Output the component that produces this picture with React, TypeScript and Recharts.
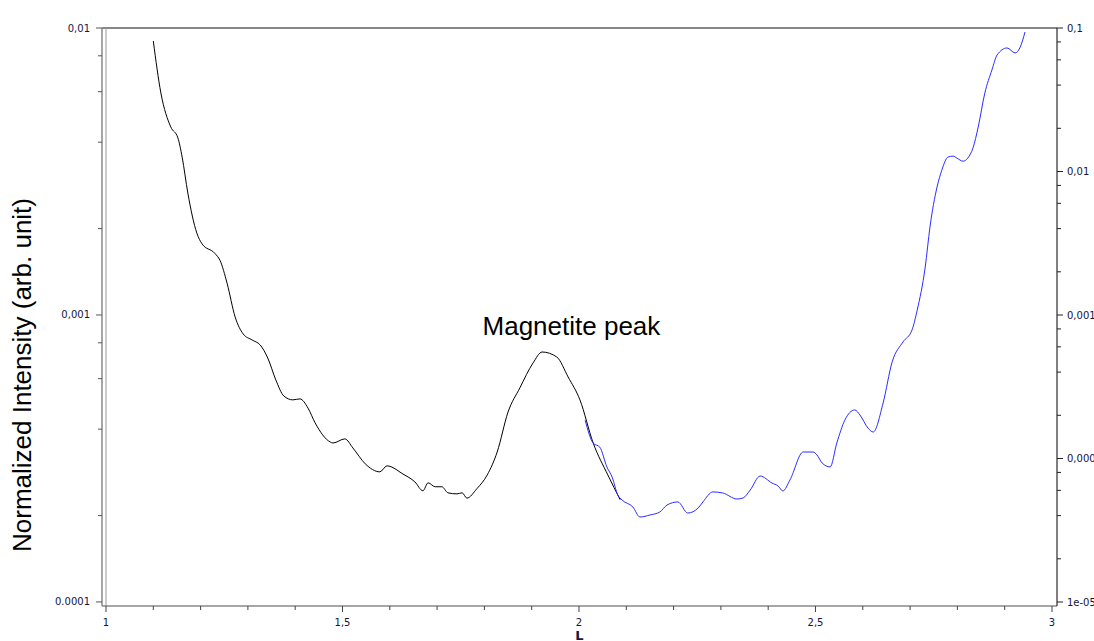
import { Line, LineChart, ReferenceDot, ReferenceLine, XAxis, YAxis } from "recharts";

// black scan (left axis)
const BLACK_L = [
    1.1, 1.116, 1.137, 1.152, 1.161, 1.173, 1.192, 1.203, 1.23, 1.241, 1.256, 1.273, 1.29, 1.309, 1.326,
    1.342, 1.359, 1.376, 1.395, 1.41, 1.427, 1.442, 1.474, 1.48, 1.505, 1.522, 1.548, 1.579, 1.594, 1.628,
    1.653, 1.67, 1.681, 1.696, 1.71, 1.723, 1.742, 1.753, 1.763, 1.784, 1.806, 1.827, 1.85, 1.875, 1.903,
    1.922, 1.953, 1.977, 2.002, 2.03, 2.061, 2.087,
];
const BLACK_I = [
    0.00901, 0.00594, 0.00452, 0.00414, 0.00355, 0.00266, 0.00193, 0.00177, 0.00164, 0.00155, 0.00129,
    0.000984, 0.000859, 0.000818, 0.000786, 0.000708, 0.000594, 0.000522, 0.000506, 0.00051, 0.000474,
    0.000421, 0.000361, 0.000358, 0.00037, 0.000344, 0.000303, 0.000284, 0.000298, 0.000279, 0.000262,
    0.000244, 0.00026, 0.000252, 0.000252, 0.00024, 0.000238, 0.00024, 0.00023, 0.000248, 0.000277,
    0.000333, 0.000459, 0.000557, 0.000681, 0.000743, 0.000714, 0.000608, 0.000506, 0.000358, 0.000277,
    0.000227,
];

// blue scan (right axis)
const BLUE_L = [
    2.013, 2.03, 2.044, 2.059, 2.07, 2.082, 2.091, 2.114, 2.129, 2.15, 2.171, 2.186, 2.209, 2.23, 2.252,
    2.262, 2.283, 2.304, 2.334, 2.347, 2.362, 2.383, 2.408, 2.421, 2.431, 2.446, 2.474, 2.495, 2.503, 2.514,
    2.531, 2.545, 2.562, 2.583, 2.594, 2.611, 2.622, 2.643, 2.662, 2.685, 2.704, 2.715, 2.732, 2.742, 2.757,
    2.767, 2.78, 2.791, 2.799, 2.812, 2.822, 2.833, 2.844, 2.858, 2.873, 2.884, 2.905, 2.922, 2.932, 2.943,
];
const BLUE_I = [
    0.000185, 0.000128, 0.00012, 8.73e-5, 7.43e-5, 5.57e-5, 5.14e-5, 4.59e-5, 3.91e-5, 4.04e-5, 4.24e-5,
    4.74e-5, 4.98e-5, 4.17e-5, 4.52e-5, 4.98e-5, 5.85e-5, 5.75e-5, 5.22e-5, 5.31e-5, 6.03e-5, 7.55e-5,
    6.75e-5, 6.43e-5, 5.94e-5, 7.08e-5, 0.000111, 0.000111, 0.000106, 9.31e-5, 8.73e-5, 0.000128, 0.000185,
    0.000218, 0.000201, 0.000163, 0.000153, 0.000244, 0.00047, 0.000649, 0.000785, 0.00108, 0.00216,
    0.0041, 0.0078, 0.0102, 0.0126, 0.0128, 0.0124, 0.0118, 0.0124, 0.0146, 0.0204, 0.0352, 0.051, 0.0649,
    0.0726, 0.067, 0.0726, 0.0938,
];

const X_TICKS = [1, 1.1, 1.2, 1.3, 1.4, 1.5, 1.6, 1.7, 1.8, 1.9, 2, 2.1, 2.2, 2.3, 2.4, 2.5, 2.6, 2.7, 2.8, 2.9, 3];
const X_MAJOR = [1, 1.5, 2, 2.5, 3];
const X_LABELS = ["1", "1,5", "2", "2,5", "3"];

const LEFT_TICKS = [0.0001, 0.0002, 0.0004, 0.0006, 0.0008, 0.001, 0.002, 0.004, 0.006, 0.008, 0.01];
const LEFT_MAJOR = [0.0001, 0.001, 0.01];
const LEFT_LABELS = ["0.0001", "0,001", "0,01"];

const RIGHT_TICKS = [
    0.00001, 0.00002, 0.00004, 0.00006, 0.00008, 0.0001, 0.0002, 0.0004, 0.0006, 0.0008, 0.001, 0.002, 0.004,
    0.006, 0.008, 0.01, 0.02, 0.04, 0.06, 0.08, 0.1,
];
const RIGHT_MAJOR = [0.00001, 0.0001, 0.001, 0.01, 0.1];
const RIGHT_LABELS = ["1e-05", "0,0001", "0,001", "0,01", "0,1"];

const blackData = BLACK_L.map((l, i) => ({ L: l, v: BLACK_I[i] }));
const blueData = BLUE_L.map((l, i) => ({ L: l, v: BLUE_I[i] }));

const TICK_FONT = "DejaVu Sans, Verdana, sans-serif";
const TICK_COLOR = "#141446";

function findLabel(value: number, majors: number[], labels: string[]) {
    const i = majors.findIndex((m) => Math.abs(m - value) < m * 1e-6);
    return i >= 0 ? labels[i] : null;
}

function LeftTick({ x, y, payload }: any) {
    const label = findLabel(payload.value, LEFT_MAJOR, LEFT_LABELS);
    return (
        <g>
            <line x1={x - (label ? 6 : 4)} x2={x} y1={y} y2={y} stroke="#555" />
            {label && (
                <text x={x - 12} y={y} textAnchor="end" dominantBaseline="central" fontSize={10} fontFamily={TICK_FONT} fill={TICK_COLOR}>
                    {label}
                </text>
            )}
        </g>
    );
}

function RightTick({ x, y, payload }: any) {
    const label = findLabel(payload.value, RIGHT_MAJOR, RIGHT_LABELS);
    return (
        <g>
            <line x1={x} x2={x + (label ? 6 : 4)} y1={y} y2={y} stroke="#222" />
            {label && (
                <text x={x + 10} y={y} textAnchor="start" dominantBaseline="central" fontSize={10} fontFamily={TICK_FONT} fill={TICK_COLOR}>
                    {label}
                </text>
            )}
        </g>
    );
}

function BottomTick({ x, y, payload }: any) {
    const label = findLabel(payload.value, X_MAJOR, X_LABELS);
    return (
        <g>
            <line x1={x} x2={x} y1={y} y2={y + (label ? 6 : 4)} stroke="#444" />
            {label && (
                <text x={x} y={y + 16} textAnchor="middle" dominantBaseline="central" fontSize={10} fontFamily={TICK_FONT} fill={TICK_COLOR}>
                    {label}
                </text>
            )}
        </g>
    );
}

function YTitle() {
    return (
        <text
            x={22}
            y={375}
            transform="rotate(-90 22 375)"
            textAnchor="middle"
            dominantBaseline="central"
            fontSize={26}
            fontFamily="Liberation Sans, Arial, sans-serif"
            fill="#000"
        >
            Normalized Intensity (arb. unit)
        </text>
    );
}

export default function App() {
    return (
        <div style={{ width: 1094, height: 641 }}>
            <style>{"body { margin: 0; overflow: hidden; }"}</style>
            <LineChart width={1094} height={641} margin={{ top: 28, right: 0, bottom: 0, left: 0 }}>
                <XAxis
                    dataKey="L"
                    type="number"
                    domain={[0.99154, 3.0106]}
                    allowDataOverflow
                    ticks={X_TICKS}
                    interval={0}
                    tick={<BottomTick />}
                    tickLine={false}
                    tickSize={0}
                    tickMargin={0}
                    height={35}
                    axisLine={{ stroke: "#888", strokeWidth: 1.5 }}
                    label={{ value: "L", position: "insideBottom", offset: 1, fontWeight: "bold", fontSize: 13, fill: TICK_COLOR, fontFamily: TICK_FONT }}
                />
                <YAxis
                    yAxisId="left"
                    orientation="left"
                    type="number"
                    scale="log"
                    domain={[0.0000968, 0.01]}
                    allowDataOverflow
                    ticks={LEFT_TICKS}
                    interval={0}
                    tick={<LeftTick />}
                    tickLine={false}
                    tickSize={0}
                    tickMargin={0}
                    width={102}
                    axisLine={{ stroke: "#888", strokeWidth: 1.5 }}
                    label={<YTitle />}
                />
                <YAxis
                    yAxisId="right"
                    orientation="right"
                    type="number"
                    scale="log"
                    domain={[0.00000938, 0.1]}
                    allowDataOverflow
                    ticks={RIGHT_TICKS}
                    interval={0}
                    tick={<RightTick />}
                    tickLine={false}
                    tickSize={0}
                    tickMargin={0}
                    width={37}
                    axisLine={{ stroke: "#000" }}
                />
                <ReferenceLine yAxisId="left" y={0.01} stroke="#888" strokeWidth={2} />
                <ReferenceLine yAxisId="left" x={1} stroke="#999" strokeWidth={1} />
                <Line
                    yAxisId="left"
                    data={blackData}
                    dataKey="v"
                    type="monotone"
                    stroke="#000"
                    strokeWidth={1}
                    dot={false}
                    isAnimationActive={false}
                />
                <Line
                    yAxisId="right"
                    data={blueData}
                    dataKey="v"
                    type="monotone"
                    stroke="#2b2bff"
                    strokeWidth={1}
                    dot={false}
                    isAnimationActive={false}
                />
                <ReferenceDot
                    yAxisId="left"
                    x={1.984}
                    y={0.000916}
                    r={0}
                    fill="none"
                    stroke="none"
                    label={{ value: "Magnetite peak", position: "center", fontSize: 26, fill: "#000", fontFamily: "Liberation Sans, Arial, sans-serif" }}
                />
            </LineChart>
        </div>
    );
}
